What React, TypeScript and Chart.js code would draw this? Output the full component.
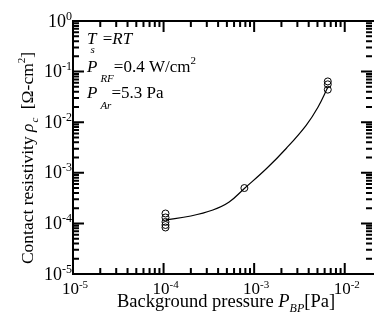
import { useEffect, useRef } from "react";
import { Chart, registerables } from "chart.js";

Chart.register(...registerables);

// Measured points (Background pressure [Pa], contact resistivity [Ω-cm²])
const measPressure = [1.05e-4, 1.05e-4, 1.05e-4, 1.05e-4, 1.05e-4, 7.8e-4, 6.5e-3, 6.5e-3, 6.5e-3];
const measResistivity = [1.57e-4, 1.31e-4, 1.07e-4, 9.3e-5, 8.3e-5, 5.0e-4, 6.4e-2, 5.6e-2, 4.4e-2];

// Fitted curve
const fitPressure = [1.05e-4, 2.0e-4, 3.5e-4, 5.3e-4, 7.8e-4, 1.38e-3, 2.27e-3, 3.75e-3, 5.06e-3, 6.5e-3];
const fitResistivity = [1.17e-4, 1.4e-4, 1.84e-4, 2.65e-4, 4.9e-4, 1.23e-3, 3.06e-3, 8.7e-3, 1.98e-2, 4.9e-2];

// Axis decades (tick labels are 10^exp)
const xDecades = [-5, -4, -3, -2];
const yDecades = [-5, -4, -3, -2, -1, 0];

const SERIF = "'Liberation Serif', 'Times New Roman', serif";

type Part = { t: string; font: string; dy?: number; dx?: number };

function richWidth(ctx: CanvasRenderingContext2D, parts: Part[]) {
  let w = 0;
  for (const p of parts) {
    ctx.font = p.font;
    w += ctx.measureText(p.t).width + (p.dx || 0);
  }
  return w;
}

function drawRich(ctx: CanvasRenderingContext2D, parts: Part[], x: number, y: number, align: "left" | "center" | "right" = "left") {
  const w = richWidth(ctx, parts);
  let cx = align === "left" ? x : align === "center" ? x - w / 2 : x - w;
  ctx.textAlign = "left";
  ctx.textBaseline = "alphabetic";
  for (const p of parts) {
    ctx.font = p.font;
    cx += p.dx || 0;
    ctx.fillText(p.t, cx, y + (p.dy || 0));
    cx += ctx.measureText(p.t).width;
  }
}

const up = (s: number) => `${s}px ${SERIF}`;
const it = (s: number) => `italic ${s}px ${SERIF}`;

const framePlugin = {
  id: "framePlugin",
  afterDraw(chart: any) {
    const ctx: CanvasRenderingContext2D = chart.ctx;
    const xs = chart.scales.x;
    const ys = chart.scales.y;
    const { left, right, top, bottom } = chart.chartArea;
    ctx.save();
    ctx.strokeStyle = "#000";
    ctx.fillStyle = "#000";
    ctx.lineWidth = 2;
    ctx.beginPath();
    ctx.moveTo(left, top);
    ctx.lineTo(right + 2, top);
    ctx.moveTo(left, bottom);
    ctx.lineTo(right + 2, bottom);
    ctx.moveTo(left, top - 1);
    ctx.lineTo(left, bottom + 1);
    ctx.stroke();

    const major = 11;
    const minor = 6;
    ctx.beginPath();
    for (const d of xDecades) {
      const px = xs.getPixelForValue(Math.pow(10, d));
      ctx.moveTo(px, bottom);
      ctx.lineTo(px, bottom - major);
      ctx.moveTo(px, top);
      ctx.lineTo(px, top + major);
      for (let m = 2; m <= 9; m++) {
        const v = m * Math.pow(10, d);
        if (v >= xs.max) break;
        const p = xs.getPixelForValue(v);
        ctx.moveTo(p, bottom);
        ctx.lineTo(p, bottom - minor);
        ctx.moveTo(p, top);
        ctx.lineTo(p, top + minor);
      }
    }
    for (const d of yDecades) {
      const py = ys.getPixelForValue(Math.pow(10, d));
      ctx.moveTo(left, py);
      ctx.lineTo(left + major, py);
      ctx.moveTo(right, py);
      ctx.lineTo(right - major, py);
      if (d < 0) {
        for (let m = 2; m <= 9; m++) {
          const p = ys.getPixelForValue(m * Math.pow(10, d));
          ctx.moveTo(left, p);
          ctx.lineTo(left + minor, p);
          ctx.moveTo(right, p);
          ctx.lineTo(right - minor, p);
        }
      }
    }
    ctx.stroke();

    // tick labels
    for (const d of xDecades) {
      const px = xs.getPixelForValue(Math.pow(10, d));
      drawRich(ctx, [
        { t: "10", font: up(17) },
        { t: String(d), font: up(11), dy: -6 },
      ], px + 2, 294, "center");
    }
    for (const d of yDecades) {
      const py = ys.getPixelForValue(Math.pow(10, d));
      drawRich(ctx, [
        { t: "10", font: up(18) },
        { t: String(d), font: up(12), dy: -7 },
      ], left - 1, py + 5.5, "right");
    }

    // annotations
    drawRich(ctx, [
      { t: "T", font: it(17) },
      { t: "s", font: it(11), dy: 9, dx: -6 },
      { t: "=", font: up(17), dx: 8 },
      { t: "RT", font: it(17) },
    ], 87, 44);
    drawRich(ctx, [
      { t: "P", font: it(17) },
      { t: "RF", font: it(11), dy: 10, dx: 3 },
      { t: "=0.4 W/cm", font: up(17) },
      { t: "2", font: up(11), dy: -8 },
    ], 87, 72);
    drawRich(ctx, [
      { t: "P", font: it(17) },
      { t: "Ar", font: it(11), dy: 11, dx: 3 },
      { t: "=5.3 Pa", font: up(17) },
    ], 87, 98);

    // x title
    drawRich(ctx, [
      { t: "Background pressure ", font: up(18.5) },
      { t: "P", font: it(18.5) },
      { t: "BP", font: it(12), dy: 5 },
      { t: "[Pa]", font: up(18.5) },
    ], 117, 307);

    // y title
    ctx.translate(33, 158);
    ctx.rotate(-Math.PI / 2);
    drawRich(ctx, [
      { t: "Contact resistivity ", font: up(17.5) },
      { t: "\u03C1", font: it(17.5) },
      { t: "c", font: it(11), dy: 5, dx: 1 },
      { t: " [\u03A9-cm", font: up(17.5), dx: 4 },
      { t: "2", font: up(11), dy: -8 },
      { t: "]", font: up(17.5) },
    ], 0, 0, "center");
    ctx.restore();
  },
};

export default function App() {
  const ref = useRef<HTMLCanvasElement | null>(null);
  useEffect(() => {
    document.body.style.margin = "0";
    const canvas = ref.current;
    if (!canvas) return;
    const fitData = fitPressure.map((x, i) => ({ x, y: fitResistivity[i] }));
    const measData = measPressure.map((x, i) => ({ x, y: measResistivity[i] }));
    const chart = new Chart(canvas, {
      type: "scatter",
      data: {
        datasets: [
          {
            data: fitData,
            showLine: true,
            borderColor: "#000",
            borderWidth: 1.2,
            pointRadius: 0,
            tension: 0.4,
            fill: false,
          },
          {
            data: measData,
            showLine: false,
            pointRadius: 3.5,
            pointBorderWidth: 1,
            pointBorderColor: "#000",
            pointBackgroundColor: "rgba(0,0,0,0)",
          },
        ],
      } as any,
      options: {
        animation: false,
        responsive: false,
        devicePixelRatio: 1,
        layout: { padding: { left: 73, top: 21, right: 0, bottom: 48 } },
        plugins: { legend: { display: false }, tooltip: { enabled: false } },
        scales: {
          x: { type: "logarithmic", min: 1e-5, max: 2e-2, display: false },
          y: { type: "logarithmic", min: 1e-5, max: 1, display: false },
        },
      } as any,
      plugins: [framePlugin],
    });
    return () => chart.destroy();
  }, []);
  return (
    <div style={{ width: 377, height: 322, background: "#fff" }}>
      <canvas ref={ref} width={377} height={322} />
    </div>
  );
}
